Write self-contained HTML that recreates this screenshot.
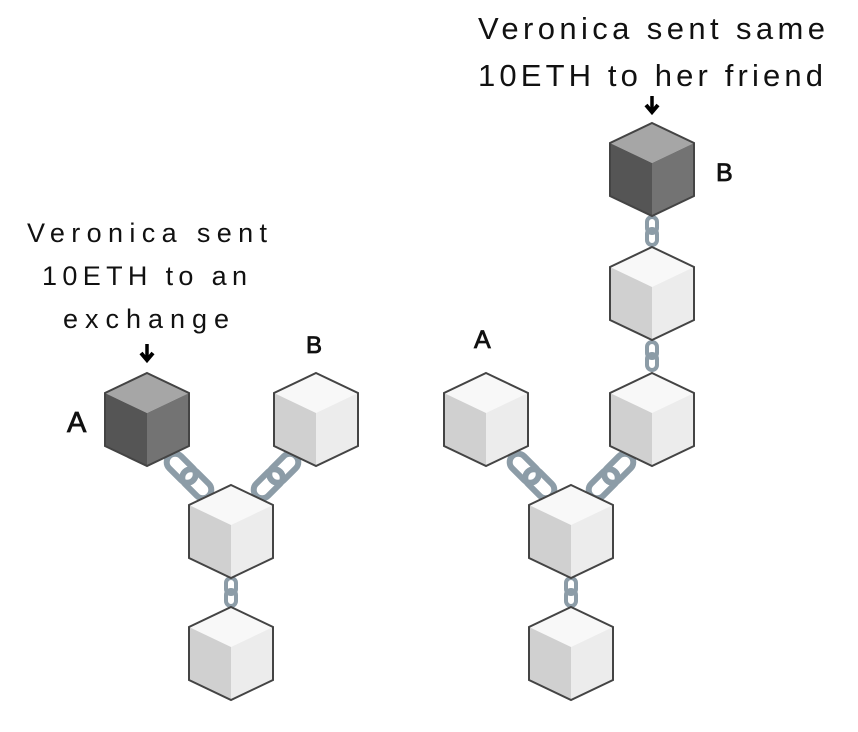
<!DOCTYPE html>
<html><head><meta charset="utf-8"><style>
html,body{margin:0;padding:0;background:#fff;}
svg{display:block;}
text{font-family:"Liberation Sans",sans-serif;fill:#111;}
.lb{stroke:#111;stroke-width:0.8;}
</style></head><body>
<svg width="858" height="732" viewBox="0 0 858 732" xmlns="http://www.w3.org/2000/svg">
<defs>
<g id="lc">
  <polygon points="0,0 42,20 42,73 0,93 -42,73 -42,20" fill="#fff"/>
  <polygon points="0,0 42,20 0,40 -42,20" fill="#f8f8f8"/>
  <polygon points="-42,20 0,40 0,93 -42,73" fill="#d0d0d0"/>
  <polygon points="42,20 0,40 0,93 42,73" fill="#ececec"/>
  <polygon points="0,0 42,20 42,73 0,93 -42,73 -42,20" fill="none" stroke="#444" stroke-width="2"/>
</g>
<g id="dc">
  <polygon points="0,0 42,20 0,40 -42,20" fill="#a6a6a6"/>
  <polygon points="-42,20 0,40 0,93 -42,73" fill="#555"/>
  <polygon points="42,20 0,40 0,93 42,73" fill="#737373"/>
  <polygon points="0,0 42,20 42,73 0,93 -42,73 -42,20" fill="none" stroke="#444" stroke-width="2"/>
</g>
<g id="vl">
  <rect x="-5" y="-14" width="10" height="16" rx="5" fill="none" stroke="#8c9ca7" stroke-width="4"/>
  <rect x="-5" y="-2" width="10" height="16" rx="5" fill="none" stroke="#8c9ca7" stroke-width="4"/>
</g>
<g id="dl">
  <rect x="-28" y="-8.5" width="34" height="17" rx="8.5" fill="none" stroke="#8c9ca7" stroke-width="6"/>
  <rect x="-6" y="-8.5" width="34" height="17" rx="8.5" fill="none" stroke="#8c9ca7" stroke-width="6"/>
</g>
<g id="ar">
  <line x1="0" y1="0" x2="0" y2="15" stroke="#000" stroke-width="3.5"/>
  <polyline points="-6,9 0,16 6,9" fill="none" stroke="#000" stroke-width="4"/>
</g>
</defs>

<!-- Left diagram -->
<g font-size="27" letter-spacing="3">
<text x="27" y="242" textLength="243" lengthAdjust="spacing">Veronica sent</text>
<text x="42" y="285" textLength="208" lengthAdjust="spacing">10ETH to an</text>
<text x="63" y="328" textLength="169" lengthAdjust="spacing">exchange</text>
</g>
<use href="#ar" x="147" y="344"/>
<text class="lb" x="67" y="432" font-size="29">A</text>
<text class="lb" x="306" y="353" font-size="24">B</text>

<use href="#dl" transform="translate(189,476) rotate(45)"/>
<use href="#dl" transform="translate(276,476) rotate(-45)"/>
<use href="#vl" x="231" y="592"/>
<use href="#dc" x="147" y="373"/>
<use href="#lc" x="316" y="373"/>
<use href="#lc" x="231" y="485"/>
<use href="#lc" x="231" y="607"/>

<!-- Right diagram -->
<g font-size="31" letter-spacing="3">
<text x="478" y="39" textLength="350" lengthAdjust="spacing">Veronica sent same</text>
<text x="478" y="86" textLength="348" lengthAdjust="spacing">10ETH to her friend</text>
</g>
<use href="#ar" x="652" y="96"/>
<text class="lb" x="716" y="181" font-size="25">B</text>
<text class="lb" x="474" y="348" font-size="25">A</text>

<use href="#dl" transform="translate(532,476) rotate(45)"/>
<use href="#dl" transform="translate(611,476) rotate(-45)"/>
<use href="#vl" x="652" y="231"/>
<use href="#vl" x="652" y="356"/>
<use href="#vl" x="571" y="592"/>
<use href="#dc" x="652" y="123"/>
<use href="#lc" x="652" y="247"/>
<use href="#lc" x="652" y="373"/>
<use href="#lc" x="486" y="373"/>
<use href="#lc" x="571" y="485"/>
<use href="#lc" x="571" y="607"/>
</svg>
</body></html>
